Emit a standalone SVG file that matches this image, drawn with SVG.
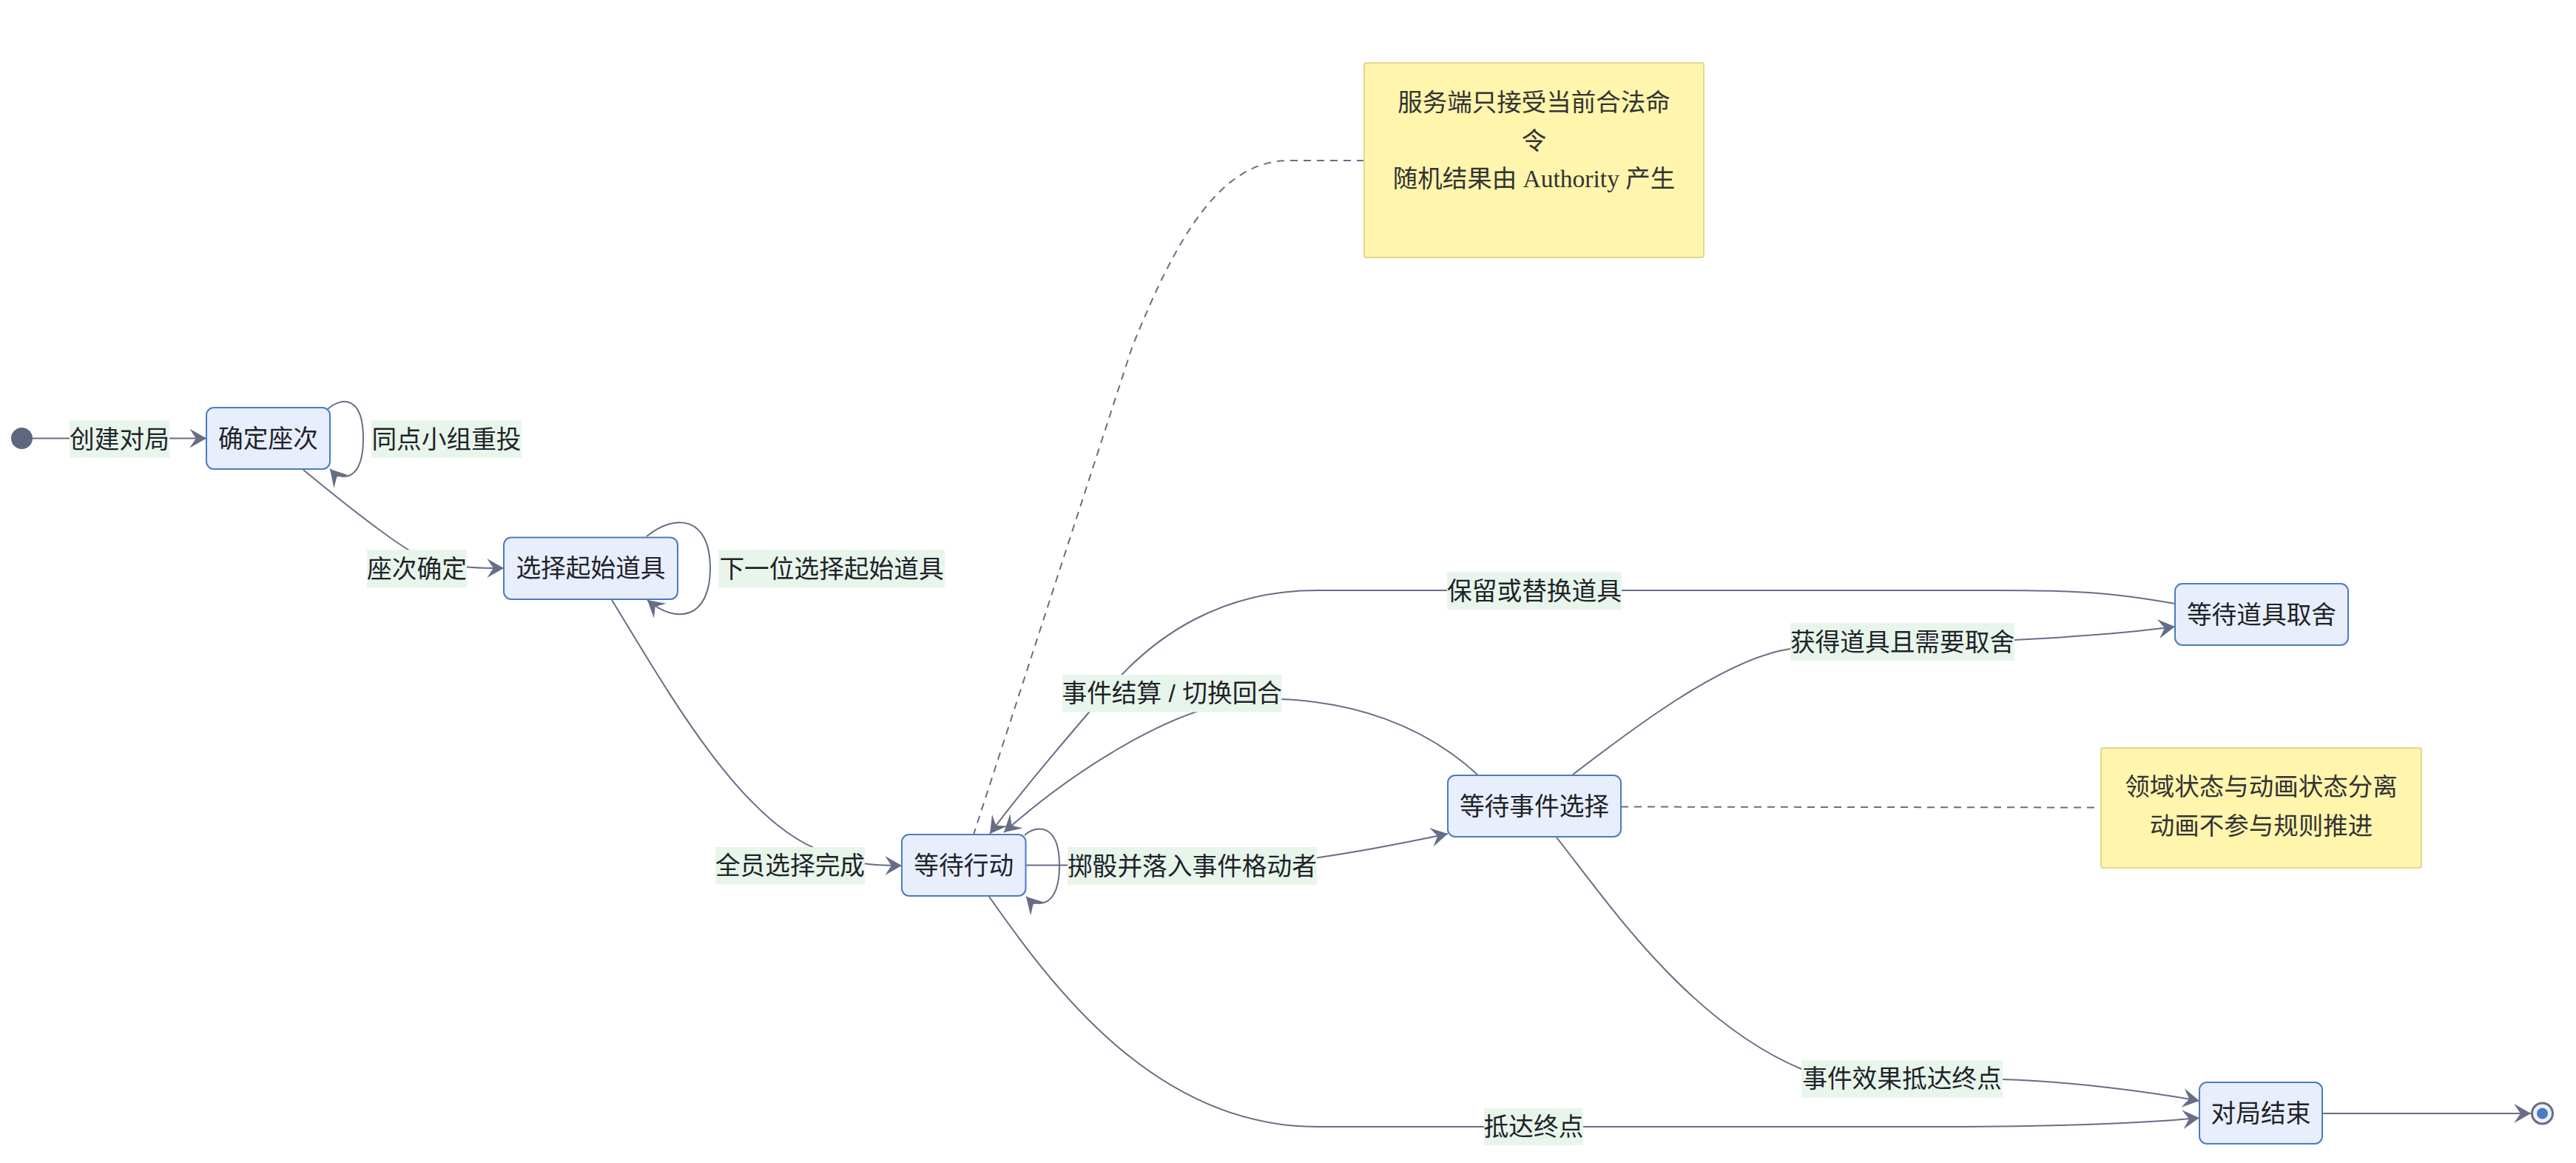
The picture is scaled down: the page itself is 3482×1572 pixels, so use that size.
<svg xmlns="http://www.w3.org/2000/svg" width="3482" height="1572" viewBox="0 0 3482 1572">
<style>
  .bg{fill:#ffffff}
  .node rect{fill:#e8eefb;stroke:#4a7bc5;stroke-width:2}
  .node text,.lbl text{font-family:"Liberation Sans","Noto Sans CJK SC",sans-serif;font-size:33.7px;fill:#1f2329;text-anchor:middle;dominant-baseline:central}
  .lbl rect{fill:#e8f5eb}
  .note rect{fill:#fff5ad;stroke:#e3d88c;stroke-width:2}
  .note text{font-family:"Liberation Serif","Noto Sans CJK SC",serif;font-size:33.5px;fill:#333333;text-anchor:middle;dominant-baseline:central}
  .edge{fill:none;stroke:#666e85;stroke-width:2}
  .dash{fill:none;stroke:#666e85;stroke-width:2;stroke-dasharray:10 8}
</style>
<defs>
  <marker id="arr" markerUnits="userSpaceOnUse" markerWidth="24" markerHeight="26" viewBox="0 0 22 24" refX="21" refY="12" orient="auto">
    <path d="M0,0 L21,12 L0,24 L8,12 z" fill="#666e85"/>
  </marker>
</defs>
<rect class="bg" x="0" y="0" width="3482" height="1572"/>

<g id="connectors">
  <path class="edge" d="M44,592.5 L279,592.5" marker-end="url(#arr)"/>
  <path class="edge" d="M443,553 C462,536 491,535 491,592.5 C491,650 462,652 446,634" marker-end="url(#arr)"/>
  <path class="edge" d="M410,635 C450,668 520,725 560,748 C600,768 640,768 681,768" marker-end="url(#arr)"/>
  <path class="edge" d="M874,725 C915,692 960,700 960,768 C960,836 915,845 875,811" marker-end="url(#arr)"/>
  <path class="edge" d="M827,811 C900,930 1000,1110 1110,1150 C1150,1168 1180,1170 1219,1170" marker-end="url(#arr)"/>
  <path class="edge" d="M1385,1129 C1400,1115 1432,1112 1432,1169.5 C1432,1227 1402,1228 1387,1212" marker-end="url(#arr)"/>
  <path class="edge" d="M1387,1169.5 L1650,1169.5 C1720,1169.5 1800,1160 1957,1127" marker-end="url(#arr)"/>
  <path class="edge" d="M2940,816 C2850,800 2800,798 2700,798 L1780,798 C1650,798 1560,860 1500,930 C1440,1000 1380,1070 1338,1127" marker-end="url(#arr)"/>
  <path class="edge" d="M1997,1047 C1930,985 1830,942 1700,945 C1580,950 1430,1060 1357,1125" marker-end="url(#arr)"/>
  <path class="edge" d="M2126,1047 C2200,990 2330,890 2420,877 L2723,865 C2820,860 2880,855 2940,847" marker-end="url(#arr)"/>
  <path class="edge" d="M2104,1132 C2170,1215 2280,1380 2435,1445 C2500,1465 2600,1455 2707,1459 C2800,1462 2900,1475 2973,1488" marker-end="url(#arr)"/>
  <path class="edge" d="M1337,1212 C1420,1330 1560,1523 1780,1523 L2600,1523 C2800,1523 2900,1518 2973,1511" marker-end="url(#arr)"/>
  <path class="edge" d="M3139,1505 L3421,1505" marker-end="url(#arr)"/>
  <path class="dash" d="M1844,217 L1742,217 C1650,217 1590,320 1530,470 L1316,1128"/>
  <path class="dash" d="M2191,1090.5 L2840,1091.5"/>
</g>

<g id="edge-labels">
  <g class="lbl"><rect x="94" y="568" width="135" height="51"/><text x="161.5" y="593.5">创建对局</text></g>
  <g class="lbl"><rect x="502" y="568" width="203" height="51"/><text x="603.5" y="593.5">同点小组重投</text></g>
  <g class="lbl"><rect x="496" y="743" width="135" height="51.5"/><text x="563.5" y="768.75">座次确定</text></g>
  <g class="lbl"><rect x="971" y="743" width="306" height="51.5"/><text x="1124" y="768.75">下一位选择起始道具</text></g>
  <g class="lbl"><rect x="967" y="1145" width="202" height="50.5"/><text x="1068" y="1170.25">全员选择完成</text></g>
  <g class="lbl"><rect x="1443" y="1145" width="337" height="51"/><text x="1611.5" y="1170.5">掷骰并落入事件格动者</text></g>
  <g class="lbl"><rect x="1436" y="912" width="296.5" height="50.5"/><text x="1584.25" y="937.25">事件结算 / 切换回合</text></g>
  <g class="lbl"><rect x="1956" y="773" width="236" height="51"/><text x="2074" y="798.5">保留或替换道具</text></g>
  <g class="lbl"><rect x="2420" y="842" width="303" height="51"/><text x="2571.5" y="867.5">获得道具且需要取舍</text></g>
  <g class="lbl"><rect x="2435" y="1433" width="272" height="50.5"/><text x="2571" y="1458.25">事件效果抵达终点</text></g>
  <g class="lbl"><rect x="2006" y="1498" width="134" height="50"/><text x="2073" y="1523">抵达终点</text></g>
</g>

<g id="start"><circle cx="29.5" cy="592.5" r="14.5" fill="#5f6680"/></g>
<g id="end"><circle cx="3436.5" cy="1505" r="14" fill="#eef2fb" stroke="#666e85" stroke-width="3"/><circle cx="3436.5" cy="1505" r="7.5" fill="#4a7bc5"/></g>

<g id="n-seat" class="node"><rect x="279" y="551" width="167" height="83" rx="10"/><text x="362.5" y="592.5">确定座次</text></g>
<g id="n-pick" class="node"><rect x="681" y="726.5" width="235" height="83.5" rx="10"/><text x="798.5" y="768.2">选择起始道具</text></g>
<g id="n-act" class="node"><rect x="1219" y="1128" width="167.5" height="83" rx="10"/><text x="1302.7" y="1169.5">等待行动</text></g>
<g id="n-event" class="node"><rect x="1957" y="1048" width="234" height="83" rx="10"/><text x="2074" y="1089.5">等待事件选择</text></g>
<g id="n-item" class="node"><rect x="2940" y="789" width="234" height="83" rx="10"/><text x="3057" y="830.5">等待道具取舍</text></g>
<g id="n-over" class="node"><rect x="2973" y="1463" width="166" height="83" rx="10"/><text x="3056" y="1504.5">对局结束</text></g>

<g id="note1" class="note"><rect x="1844" y="85" width="459" height="263" rx="3"/>
  <text x="2073.5" y="138.3">服务端只接受当前合法命</text>
  <text x="2073.5" y="190">令</text>
  <text x="2073.5" y="241.7">随机结果由 Authority 产生</text>
</g>
<g id="note2" class="note"><rect x="2840" y="1011" width="433" height="162" rx="3"/>
  <text x="3056.5" y="1063.3">领域状态与动画状态分离</text>
  <text x="3056.5" y="1116.7">动画不参与规则推进</text>
</g>
</svg>
